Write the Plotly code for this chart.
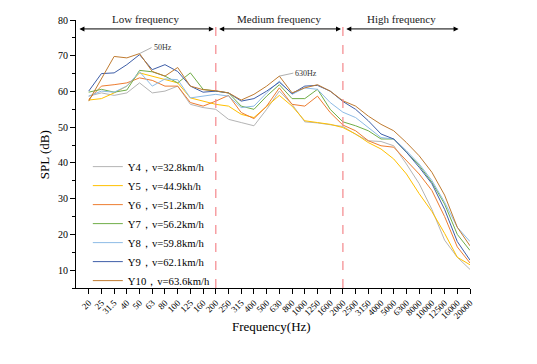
import plotly.graph_objects as go

freqs = ["20", "25", "31.5", "40", "50", "63", "80", "100", "125", "160",
         "200", "250", "315", "400", "500", "630", "800", "1000", "1250", "1600",
         "2000", "2500", "3150", "4000", "5000", "6300", "8000", "10000", "12500", "16000", "20000"]

y4 = [58.7, 59.6, 58.9, 59.6, 62.4, 59.6, 60.1, 61.5, 56.4, 55.5,
      55.0, 52.2, 51.3, 50.4, 55.0, 60.1, 56.4, 51.5, 51.2, 50.6,
      50.2, 48.0, 46.2, 46.0, 44.8, 39.7, 34.2, 27.0, 18.4, 13.6, 10.2]
y5 = [57.6, 58.0, 59.6, 61.5, 65.2, 64.3, 63.3, 62.4, 58.2, 57.3,
      56.4, 55.9, 53.6, 52.7, 55.9, 58.9, 55.9, 51.8, 51.3, 50.8,
      49.9, 48.1, 45.7, 43.9, 41.1, 36.9, 31.4, 26.4, 20.3, 13.6, 11.5]
y6 = [57.8, 61.5, 61.9, 62.4, 63.8, 63.1, 61.5, 61.5, 56.9, 55.9,
      57.3, 58.9, 54.1, 52.4, 55.9, 61.0, 56.4, 55.9, 58.7, 54.1,
      50.6, 49.0, 46.2, 44.8, 44.4, 40.7, 36.9, 32.3, 25.0, 16.5, 12.0]
y7 = [59.8, 60.6, 59.8, 60.4, 65.9, 65.5, 64.3, 62.4, 65.2, 60.6,
      60.1, 59.6, 55.9, 55.0, 58.7, 61.9, 58.0, 58.0, 60.6, 55.0,
      51.5, 50.4, 49.0, 46.7, 46.7, 43.0, 39.3, 34.6, 28.5, 20.0, 15.5]
y8 = [58.7, 60.1, 59.8, 61.5, 65.5, 61.5, 63.5, 63.3, 58.2, 58.7,
      59.2, 58.7, 55.5, 55.9, 59.6, 62.9, 59.2, 61.0, 60.6, 56.9,
      54.2, 52.7, 49.9, 47.1, 46.7, 43.4, 39.7, 35.1, 29.0, 22.0, 18.0]
y9 = [60.1, 65.0, 65.2, 67.5, 70.3, 66.1, 67.5, 65.6, 61.5, 59.8,
      60.1, 59.6, 57.3, 58.0, 60.1, 62.6, 59.4, 61.5, 61.7, 60.1,
      57.2, 55.0, 51.8, 48.1, 46.7, 43.0, 38.8, 34.2, 27.0, 18.0, 12.8]
y10 = [57.3, 63.6, 69.8, 69.4, 70.6, 65.6, 64.3, 66.7, 61.5, 60.5,
       60.2, 59.6, 57.6, 59.2, 61.5, 64.3, 59.6, 61.0, 61.9, 60.1,
       57.4, 55.9, 53.1, 50.8, 49.0, 45.7, 42.0, 37.4, 31.0, 22.0, 16.8]

series = [
    ("Y4\uff0cv=32.8km/h", y4, "#b4b4b4"),
    ("Y5\uff0cv=44.9kh/h", y5, "#ffc000"),
    ("Y6\uff0cv=51.2km/h", y6, "#ed7d31"),
    ("Y7\uff0cv=56.2km/h", y7, "#70ad47"),
    ("Y8\uff0cv=59.8km/h", y8, "#8dbbe6"),
    ("Y9\uff0cv=62.1km/h", y9, "#3e5ea8"),
    ("Y10\uff0cv=63.6km/h", y10, "#bf7b30"),
]

fig = go.Figure()
for name, ys, color in series:
    fig.add_trace(go.Scatter(x=freqs, y=ys, mode="lines", name=name,
                             line=dict(color=color, width=1)))

font = "Liberation Serif, Times New Roman, serif"

# band dividers
for xb in [10, 20]:
    fig.add_shape(type="line", x0=xb, x1=xb, y0=5, y1=80, xref="x", yref="y",
                  line=dict(color="#f4878c", width=1.2, dash="dash"))

# band arrows and labels
bands = [("Low frequency", -0.85, 9.85), ("Medium frequency", 10.15, 19.85),
         ("High frequency", 20.15, 29.1)]
for label, a, b in bands:
    fig.add_annotation(x=b, y=77.5, ax=a, ay=77.5, xref="x", yref="y", axref="x", ayref="y",
                       text="", showarrow=True, arrowhead=2, startarrowhead=2,
                       arrowside="end+start", arrowsize=1, arrowwidth=1, arrowcolor="black")
    fig.add_annotation(x=(a + b) / 2, y=78.0, xref="x", yref="y", text=label,
                       showarrow=False, yanchor="bottom", font=dict(size=11, family=font, color="#222"))

# peak labels
fig.add_annotation(x=4, y=70.6, xref="x", yref="y", text="50Hz", showarrow=True,
                   ax=12, ay=-6, arrowhead=0, arrowwidth=0.8, arrowcolor="#999",
                   xanchor="left", font=dict(size=8, family=font, color="#333"))
fig.add_annotation(x=15, y=64.3, xref="x", yref="y", text="630Hz", showarrow=True,
                   ax=14, ay=-3, arrowhead=0, arrowwidth=0.8, arrowcolor="#999",
                   xanchor="left", font=dict(size=8, family=font, color="#333"))

# axis titles
fig.add_annotation(x=0.497, y=-0.145, xref="paper", yref="paper", text="Frequency(Hz)",
                   xanchor="center", yanchor="middle",
                   showarrow=False, font=dict(size=13, family=font))
fig.add_annotation(x=-0.081, y=0.496, xref="paper", yref="paper", text="SPL (dB)",
                   xanchor="center", yanchor="middle",
                   textangle=-90, showarrow=False, font=dict(size=13, family=font))

fig.update_layout(
    width=529, height=356,
    margin=dict(l=68, r=67, t=12, b=76),
    plot_bgcolor="white", paper_bgcolor="white",
    font=dict(family=font, color="black"),
    showlegend=True,
    legend=dict(x=0.03, y=0.507, xanchor="left", yanchor="top", bgcolor="rgba(0,0,0,0)",
                font=dict(size=10.7, family=font), tracegroupgap=0, itemwidth=30),
    xaxis=dict(type="category", categoryorder="array", categoryarray=freqs,
               range=[-1, 30], showline=True, linecolor="black", linewidth=1.2,
               ticks="outside", ticklen=5, tickcolor="black", tickangle=-45,
               tickfont=dict(size=9, family=font), showgrid=False, zeroline=False,
               automargin=False),
    yaxis=dict(range=[5, 80], dtick=10, tick0=0, showline=True, linecolor="black", linewidth=1.2,
               ticks="outside", ticklen=5, tickcolor="black", showgrid=False, zeroline=False,
               tickfont=dict(size=10, family=font), automargin=False,
               minor=dict(dtick=5, ticks="outside", ticklen=3, tickcolor="black")),
)

fig.write_html("out.html")
